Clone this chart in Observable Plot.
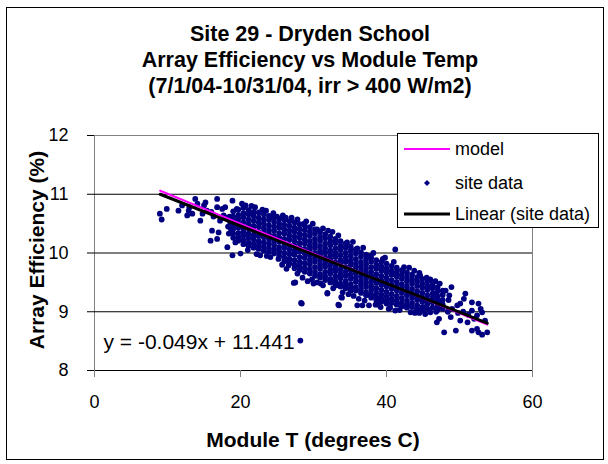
<!DOCTYPE html>
<html>
<head>
<meta charset="utf-8">
<script src="https://cdn.jsdelivr.net/npm/d3@7"></script>
<script src="https://cdn.jsdelivr.net/npm/@observablehq/plot@0.6"></script>
<style>
  body { margin: 0; background: #fff; }
  #wrap { position: relative; width: 608px; height: 464px; font-family: "Liberation Sans", Arial, sans-serif; color: #000; overflow: hidden; }
  .abs { position: absolute; }
  #title { left: 0; width: 620px; top: 21px; text-align: center; font-weight: bold; font-size: 21.5px; line-height: 26px; }
  #ytitle { left: 37px; top: 250px; transform: translate(-50%, -50%) rotate(-90deg); font-weight: bold; font-size: 21px; white-space: nowrap; }
  #xtitle { left: 313px; top: 440px; transform: translate(-50%, -50%); font-weight: bold; font-size: 21px; white-space: nowrap; }
  #legend { left: 397px; top: 133px; width: 200px; height: 93px; border: 1px solid #000; background: #fff; font-size: 18px; }
  .lrow { position: absolute; left: 0; width: 200px; height: 24px; }
  .lrow svg { position: absolute; left: 5px; top: 0; }
  .lrow span { position: absolute; left: 57px; top: 1px; line-height: 22px; white-space: nowrap; }
</style>
</head>
<body>
<div id="wrap">
  <div class="abs" style="left:6px;top:7px;width:596px;height:451px;border:1px solid #000;"></div>
  <div class="abs" id="chart" style="left:0;top:0;"></div>
  <div class="abs" id="title"></div>
  <div class="abs" id="ytitle"></div>
  <div class="abs" id="xtitle"></div>
  <div class="abs" id="legend"></div>
</div>
<script>
// ---- text ----
const titleLines = ["Site 29 - Dryden School", "Array Efficiency vs Module Temp", "(7/1/04-10/31/04, irr > 400 W/m2)"];
const xTitle = "Module T (degrees C)";
const yTitle = "Array Efficiency (%)";
const legendLabels = ["model", "site data", "Linear (site data)"];
const equationText = "y = -0.049x + 11.441";

// ---- axes ----
const xTicks = [0, 20, 40, 60];
const yTicks = [8, 9, 10, 11, 12];
const gridY = [9, 10, 11];

// ---- model line ----
const modelT = [9.0, 53.8];
const modelEff = [11.06, 8.78];

// ---- linear trend of site data (from the displayed equation) ----
const trendSlope = -0.049;
const trendIntercept = 11.441;
const trendT = [9.0, 53.8];

// ---- site data: scattered points (T, efficiency) ----
const sparsePoints = [
  [8.95,10.67],[9.2,10.57],[9.9,10.75],[11.5,10.72],[12.0,10.81],[12.7,10.64],[12.9,10.72],[13.0,10.78],
  [13.4,10.67],[13.8,10.92],[14.1,10.84],[14.5,10.55],[14.8,10.67],[15.0,10.81],[15.2,10.86],[15.4,10.72],
  [15.9,10.21],[16.0,10.70],[16.1,10.38],[16.3,10.62],[16.8,10.92],[16.8,10.78],[16.8,10.24],[17.0,10.35],
  [17.2,10.55],[17.5,10.75],[17.7,10.64],[17.9,10.78],[18.0,10.60],[18.2,10.10],[18.4,10.33],[18.6,10.52],
  [18.9,10.89],[18.9,9.96],[19.3,10.18],[19.5,10.75],[20.0,9.99],[20.7,10.81],[21.4,10.67],[22.0,10.78],
  [22.7,9.96],[23.5,10.72],[24.1,9.93],[24.1,10.61],[25.0,10.62],[25.2,9.90],[26.2,10.60],[26.6,9.79],
  [27.3,9.49],[27.5,9.50],[27.8,9.65],[28.2,8.51],[28.3,9.15],[28.4,9.14],[28.7,10.50],[29.8,9.55],
  [30.5,10.40],[30.5,9.50],[31.0,9.48],[31.9,9.31],[31.9,9.32],[32.0,10.38],[33.2,9.45],[33.4,9.12],
  [33.5,9.11],[33.8,9.25],[33.9,9.24],[34.6,10.18],[34.8,9.30],[35.1,9.36],[36.0,9.11],[36.0,10.08],
  [36.7,9.11],[37.6,9.11],[37.8,9.28],[37.8,9.95],[38.5,9.12],[39.2,9.08],[39.5,9.90],[40.3,9.05],
  [41.2,10.06],[41.2,9.02],[42.2,9.70],[42.4,9.76],[42.8,9.11],[43.3,8.99],[43.8,9.70],[44.5,8.98],
  [44.6,9.62],[45.1,9.08],[45.5,9.58],[46.0,8.99],[46.5,9.31],[46.8,9.00],[46.9,8.82],[47.2,8.88],
  [47.4,9.11],[47.6,9.18],[47.9,8.65],[48.1,9.36],[48.4,9.00],[48.5,9.20],[48.6,9.28],[48.8,8.91],
  [49.0,9.05],[49.5,8.68],[49.7,9.11],[49.8,8.98],[50.1,8.85],[50.1,9.14],[50.5,9.00],[50.6,9.22],
  [50.8,9.31],[51.1,8.82],[51.2,8.95],[51.7,9.16],[51.7,9.02],[51.7,8.68],[52.0,8.88],[52.4,8.71],
  [52.4,8.94],[52.6,9.14],[52.6,8.65],[52.9,9.05],[53.1,8.99],[53.1,8.61],[53.5,8.85],[53.8,8.65],
  // ragged upper edge of the cloud
  [18.3,10.45],[18.5,10.62],[18.7,10.40],[20.2,10.84],[21.5,10.80],[23.0,10.74],[24.5,10.68],[25.8,10.64],
  [27.0,10.60],[27.8,10.57],[29.0,10.54],[29.9,10.50],[31.3,10.42],[32.6,10.36],[33.4,10.30],[35.4,10.19],
  [36.8,10.09],[38.2,10.00],[39.8,9.92],[41.0,9.85],[43.1,9.75],[44.5,9.66],[46.0,9.55],[46.7,9.52],
  [47.3,9.48],[48.9,9.42],
  // ragged lower edge of the cloud
  [21.0,10.05],[22.2,9.98],[23.6,9.95],[25.7,9.80],[26.3,9.73],[28.5,9.58],[29.2,9.52],[30.0,9.48],
  [31.3,9.45],[32.7,9.40],[34.0,9.33],[35.5,9.27],[36.2,9.22],[37.0,9.19],[38.9,9.12],[40.5,9.07],
  [41.8,9.03],[43.9,8.98],[44.0,9.00],[45.3,8.96]
];

// dense core: each row = [T, efficiency values at that T]
const coreColumns = [
  [19.0, 10.71,10.62,10.56,10.47,10.41,10.33,10.26],
  [19.7, 10.74,10.65,10.58,10.51,10.43,10.34,10.27,10.21],
  [20.4, 10.77,10.68,10.61,10.52,10.44,10.37,10.30,10.22,10.15],
  [21.1, 10.73,10.66,10.57,10.49,10.42,10.33,10.26,10.18,10.12],
  [21.8, 10.70,10.63,10.55,10.46,10.39,10.31,10.24,10.16,10.09],
  [22.5, 10.69,10.60,10.52,10.45,10.36,10.29,10.20,10.13,10.07],
  [23.2, 10.66,10.57,10.50,10.42,10.35,10.27,10.18,10.11,10.04],
  [23.9, 10.63,10.56,10.47,10.39,10.32,10.24,10.16,10.08,10.02],
  [24.6, 10.61,10.53,10.45,10.38,10.29,10.21,10.14,10.06,9.99],
  [25.3, 10.58,10.50,10.43,10.34,10.26,10.19,10.10,10.03,9.95],
  [26.0, 10.56,10.48,10.40,10.33,10.24,10.16,10.09,10.00,9.92,9.86],
  [26.7, 10.54,10.46,10.38,10.30,10.23,10.14,10.06,9.98,9.90,9.83],
  [27.4, 10.52,10.43,10.36,10.28,10.20,10.12,10.04,9.97,9.88,9.80,9.74],
  [28.1, 10.49,10.41,10.33,10.26,10.17,10.09,10.02,9.93,9.85,9.78,9.71],
  [28.8, 10.47,10.39,10.31,10.23,10.16,10.07,9.99,9.92,9.83,9.75,9.68],
  [29.5, 10.44,10.36,10.29,10.20,10.12,10.05,9.96,9.88,9.81,9.72,9.65],
  [30.2, 10.40,10.33,10.24,10.16,10.09,10.00,9.92,9.85,9.76,9.68,9.61],
  [30.9, 10.36,10.28,10.21,10.12,10.04,9.97,9.88,9.80,9.73,9.64,9.58],
  [31.6, 10.32,10.25,10.16,10.08,10.01,9.92,9.84,9.77,9.68,9.60,9.54],
  [32.3, 10.28,10.20,10.13,10.04,9.96,9.89,9.80,9.72,9.65,9.56,9.50],
  [33.0, 10.24,10.17,10.08,10.00,9.93,9.84,9.76,9.69,9.60,9.52,9.47],
  [33.7, 10.20,10.12,10.05,9.96,9.88,9.81,9.72,9.64,9.57,9.48,9.43],
  [34.4, 10.16,10.09,10.00,9.92,9.85,9.76,9.68,9.61,9.52,9.45,9.40],
  [35.1, 10.11,10.04,9.95,9.87,9.80,9.71,9.63,9.56,9.47,9.40,9.36],
  [35.8, 10.06,9.99,9.90,9.82,9.75,9.66,9.58,9.51,9.42,9.36],
  [36.5, 10.01,9.94,9.85,9.77,9.70,9.61,9.53,9.46,9.38,9.32],
  [37.2, 9.97,9.89,9.81,9.73,9.66,9.57,9.49,9.42,9.33,9.28],
  [37.9, 9.92,9.85,9.76,9.68,9.61,9.52,9.44,9.37,9.29,9.24],
  [38.6, 9.88,9.80,9.73,9.64,9.56,9.49,9.40,9.32,9.25,9.20],
  [39.3, 9.85,9.77,9.70,9.61,9.53,9.46,9.37,9.29,9.22,9.17],
  [40.0, 9.82,9.74,9.67,9.58,9.50,9.43,9.34,9.26,9.19,9.14],
  [40.7, 9.78,9.70,9.63,9.54,9.46,9.39,9.30,9.22,9.15],
  [41.4, 9.75,9.67,9.60,9.51,9.43,9.36,9.27,9.19,9.12],
  [42.1, 9.71,9.63,9.56,9.47,9.39,9.32,9.23,9.15,9.09],
  [42.8, 9.67,9.59,9.52,9.43,9.35,9.28,9.19,9.12,9.07],
  [43.5, 9.63,9.55,9.48,9.39,9.31,9.24,9.15,9.08],
  [44.2, 9.59,9.52,9.44,9.35,9.27,9.20,9.11,9.05],
  [44.9, 9.56,9.48,9.41,9.32,9.24,9.17,9.08,9.02],
  [45.6, 9.52,9.44,9.37,9.28,9.20,9.13,9.05],
  [46.3, 9.47,9.40,9.31,9.23,9.16,9.07],
  [47.0, 9.42,9.35,9.26,9.19,9.10,9.03],
  [47.7, 9.36,9.29,9.20,9.12,9.05]
];

// ---- colours ----
const siteColor = "#000080";
const modelColor = "#ff00ff";
const trendColor = "#000000";

// ---- build tables ----
const site = [];
for (const [t, e] of sparsePoints) site.push({t, e});
for (const [t, ...effs] of coreColumns) for (const e of effs) site.push({t, e});
const model = modelT.map((t, i) => ({t, e: modelEff[i]}));
const trend = trendT.map(t => ({t, e: trendIntercept + trendSlope * t}));

const fontFamily = '"Liberation Sans", Arial, sans-serif';

const chart = Plot.plot({
  width: 608,
  height: 464,
  marginLeft: 94,
  marginRight: 76,
  marginTop: 135,
  marginBottom: 94,
  style: {fontFamily, fontSize: "18px", color: "#000", background: "transparent", overflow: "visible"},
  x: {domain: [0, 60], ticks: xTicks},
  y: {domain: [8, 12], ticks: yTicks},
  marks: [
    Plot.frame({stroke: "#808080"}),
    Plot.ruleY(gridY, {stroke: "#000", strokeWidth: 1}),
    Plot.ruleY([8], {stroke: "#000", strokeWidth: 1}),
    Plot.axisX({ticks: xTicks, tickFormat: d => String(d), tickSize: 7, tickPadding: 18, label: null, stroke: "#808080", fontSize: 18}),
    Plot.axisY({ticks: yTicks, tickFormat: d => String(d), tickSize: 7, tickPadding: 19, label: null, stroke: "#000", fontSize: 18}),
    Plot.dot(site, {x: "t", y: "e", symbol: "circle", r: 2.9, fill: siteColor, stroke: null}),
    Plot.line(model, {x: "t", y: "e", stroke: modelColor, strokeWidth: 2}),
    Plot.line(trend, {x: "t", y: "e", stroke: trendColor, strokeWidth: 3}),
    Plot.text([equationText], {text: d => d, frameAnchor: "bottom-left", dx: 9, dy: -28, textAnchor: "start", lineAnchor: "middle", fontSize: 21, fill: "#000"})
  ]
});
document.getElementById("chart").appendChild(chart);

document.getElementById("title").innerHTML = titleLines.map(s => `<div>${s.replace(/>/g, "&gt;")}</div>`).join("");
document.getElementById("ytitle").textContent = yTitle;
document.getElementById("xtitle").textContent = xTitle;

const swatches = [
  `<svg width="48" height="24"><line x1="1" x2="47" y1="12" y2="12" stroke="${modelColor}" stroke-width="2"/></svg>`,
  `<svg width="48" height="24"><path d="M24,9 L27,12 L24,15 L21,12 Z" fill="${siteColor}"/></svg>`,
  `<svg width="48" height="24"><line x1="1" x2="47" y1="12" y2="12" stroke="${trendColor}" stroke-width="3"/></svg>`
];
const rowTops = [3, 37, 68];
document.getElementById("legend").innerHTML = legendLabels.map((lab, i) =>
  `<div class="lrow" style="top:${rowTops[i]}px">${swatches[i]}<span>${lab}</span></div>`).join("");
</script>
</body>
</html>
